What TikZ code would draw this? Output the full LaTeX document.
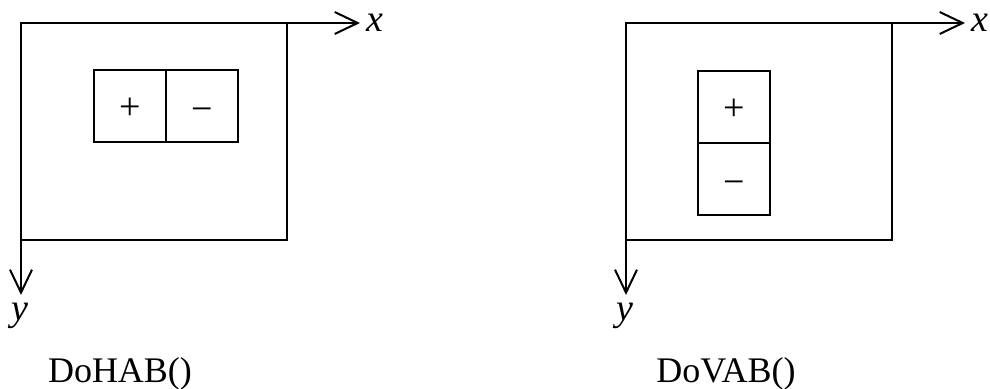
\documentclass[tikz,border=0pt]{standalone}
\usepackage{fontspec}
\setmainfont{Liberation Serif}
\usetikzlibrary{arrows.meta,positioning}
\tikzset{
  frame/.style={draw=black,line width=1pt},
  axis/.style={draw=black,line width=1pt,-{Straight Barb[length=11.5pt,width=11pt,line width=1pt]}},
  cell/.style={draw=black,line width=1pt,minimum width=36pt,minimum height=36pt,inner sep=0pt,outer sep=0pt,text height=13.5pt,text depth=0pt,font=\fontsize{19}{21}\selectfont},
  axlbl/.style={inner sep=0pt,font=\fontsize{19}{21}\selectfont\itshape},
  caption/.style={inner sep=0pt,anchor=base,font=\fontsize{18}{20}\selectfont},
}
\newcommand{\minuslbl}{\raisebox{-1pt}{−}}
\begin{document}
\begin{tikzpicture}[x=0.5pt,y=-0.5pt]
    \useasboundingbox (0,0) rectangle (990,389);
    % horizontal button pair
    \begin{scope}[shift={(21,23)}]
      \coordinate (oh) at (0,0);
      \draw[frame] (oh) rectangle (266,217);
      \coordinate (xh) at (339,0);
      \coordinate (yh) at (0,272);
      \draw[axis] (oh) -- (xh);
      \draw[axis] (oh) -- (yh);
      \node[axlbl,anchor=west] (xlh) at (345,0) {x};
      \node[axlbl,anchor=north] (ylh) at (-1,280) {y};
      \node[cell] (plush) at (109,83) {+};
      \node[cell,right=0pt of plush] (minush) {\minuslbl};
      \node[caption] (caph) at (99,360) {DoHAB()};
    \end{scope}
    % vertical button pair
    \begin{scope}[shift={(626,23)}]
      \coordinate (ov) at (0,0);
      \draw[frame] (ov) rectangle (266,217);
      \coordinate (xv) at (339,0);
      \coordinate (yv) at (0,272);
      \draw[axis] (ov) -- (xv);
      \draw[axis] (ov) -- (yv);
      \node[axlbl,anchor=west] (xlv) at (345,0) {x};
      \node[axlbl,anchor=north] (ylv) at (-1,280) {y};
      \node[cell] (plusv) at (108,84) {+};
      \node[cell,below=0pt of plusv] (minusv) {\minuslbl};
      \node[caption] (capv) at (100,360) {DoVAB()};
    \end{scope}
  \end{tikzpicture}
\end{document}
